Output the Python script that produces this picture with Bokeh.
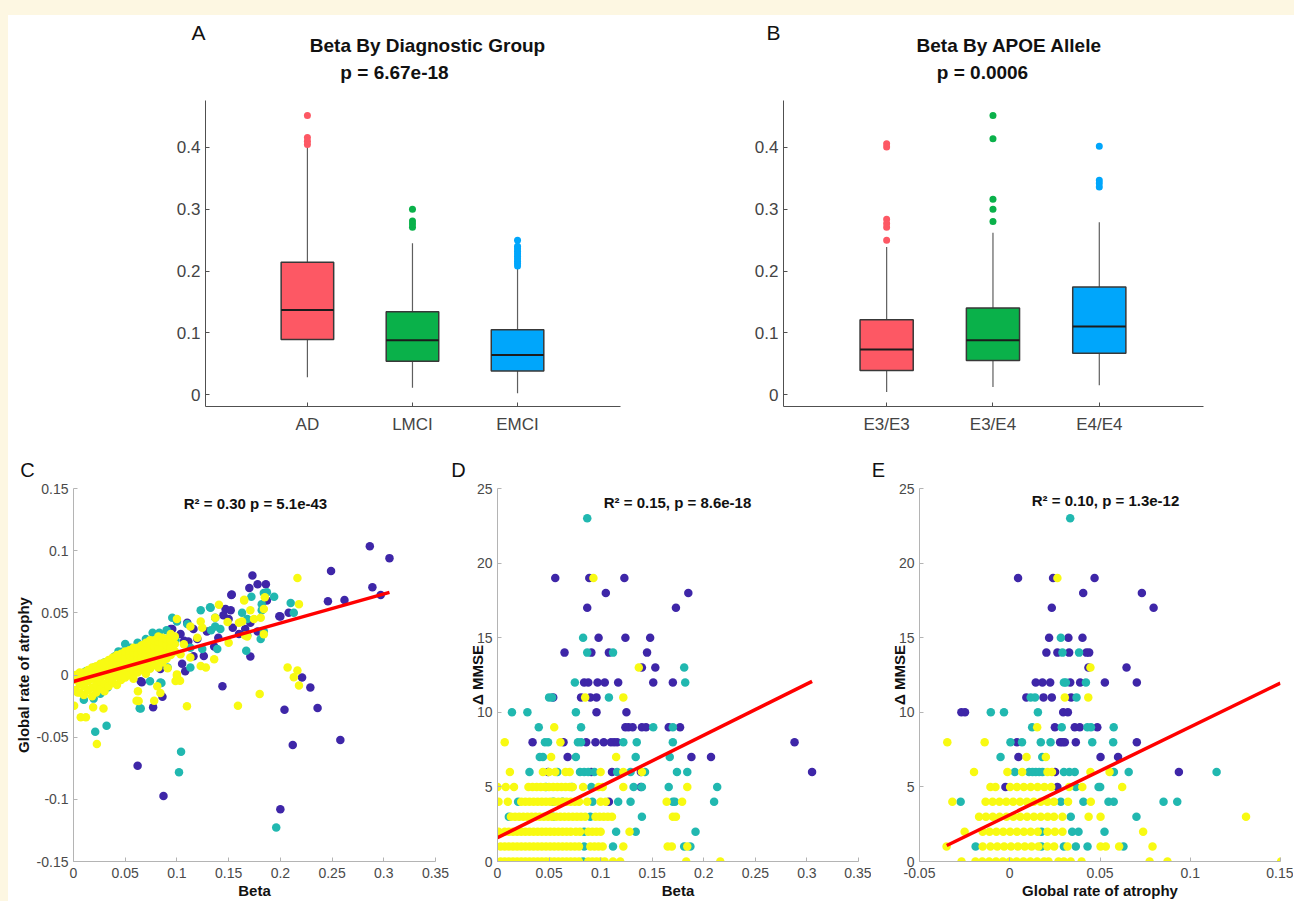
import json
from bokeh.plotting import figure
from bokeh.models import ColumnDataSource, Range1d, FixedTicker, CustomJSTickFormatter, Label, Div
from bokeh.layouts import column, row
from bokeh.embed import file_html
from bokeh.resources import INLINE

FONT = "Liberation Sans"
CREAM = "#fdf7e2"

# ---------------- Panel A: Beta by diagnostic group ----------------
diag_groups = ["AD", "LMCI", "EMCI"]
diag_low = [0.028, 0.011, 0.002]
diag_q1 = [0.089, 0.054, 0.038]
diag_med = [0.137, 0.088, 0.064]
diag_q3 = [0.214, 0.134, 0.105]
diag_high = [0.403, 0.245, 0.206]
diag_outliers = [
    [0.452, 0.416, 0.410, 0.405],
    [0.300, 0.281, 0.276, 0.271],
    [0.250, 0.240, 0.236, 0.232, 0.228, 0.224, 0.220, 0.216, 0.212, 0.208],
]

# ---------------- Panel B: Beta by APOE allele ----------------
apoe_groups = ["E3/E3", "E3/E4", "E4/E4"]
apoe_low = [0.004, 0.012, 0.015]
apoe_q1 = [0.039, 0.055, 0.067]
apoe_med = [0.073, 0.088, 0.110]
apoe_q3 = [0.121, 0.140, 0.174]
apoe_high = [0.239, 0.262, 0.279]
apoe_outliers = [
    [0.406, 0.401, 0.284, 0.277, 0.271, 0.250],
    [0.452, 0.414, 0.316, 0.300, 0.280],
    [0.402, 0.347, 0.342, 0.336],
]

BOX_COLORS = ["#fd5864", "#0ab14a", "#00a6fb"]
SC_COLORS = {"purple": "#3e26a8", "teal": "#21b8b0", "yellow": "#f8fa12"}

# ---------------- Panel C: Beta vs global rate of atrophy ----------------
c_purple = [
    (0.2865, 0.1036), (0.3055, 0.094), (0.249, 0.0837), (0.173, 0.080), (0.170, 0.070),
    (0.178, 0.073), (0.186, 0.073), (0.289, 0.0706), (0.297, 0.0644), (0.246, 0.0593),
    (0.262, 0.0604), (0.153, 0.0647), (0.187, 0.060), (0.200, 0.047), (0.208, 0.050),
    (0.147, 0.053), (0.152, 0.052), (0.145, 0.048), (0.150, 0.045), (0.0955, 0.037),
    (0.1035, 0.033), (0.111, 0.027), (0.1197, 0.029), (0.116, 0.037), (0.129, 0.035),
    (0.154, 0.038), (0.166, 0.037), (0.171, 0.042), (0.178, 0.035), (0.126, 0.0153),
    (0.171, 0.0148), (0.108, 0.003), (0.144, -0.009), (0.221, -0.002), (0.229, -0.010),
    (0.066, -0.0059), (0.086, -0.0174), (0.077, -0.026), (0.204, -0.0279), (0.236, -0.0266),
    (0.212, -0.0563), (0.258, -0.0523), (0.062, -0.073), (0.087, -0.0974), (0.200, -0.1079),
    (0.065, -0.005), (0.094, 0.037), (0.110, 0.042), (0.107, 0.0275), (0.116, 0.015),
    (0.084, 0.0048), (0.105, 0.009), (0.136, 0.023), (0.140, 0.030), (0.160, 0.033),
    (0.199, 0.0472), (0.1526, 0.0644),
]
c_teal = [
    (0.021, -0.0456), (0.032, -0.0408), (0.104, -0.0617), (0.102, -0.0783), (0.196, -0.1226),
    (0.064, -0.0268), (0.074, -0.005), (0.085, -0.0064), (0.167, 0.0196), (0.168, 0.032),
    (0.184, 0.066), (0.172, 0.063), (0.210, 0.058), (0.213, 0.050), (0.1326, 0.054),
    (0.123, 0.052), (0.137, 0.046), (0.163, 0.050), (0.168, 0.045), (0.142, 0.037),
    (0.137, 0.039), (0.133, 0.036), (0.184, 0.035), (0.181, 0.029), (0.0987, 0.028),
    (0.113, 0.022), (0.1245, 0.021), (0.139, 0.021), (0.113, 0.006), (0.0955, 0.046),
    (0.100, 0.043), (0.0435, 0.019), (0.050, 0.025), (0.033, -0.010), (0.084, -0.006),
    (0.065, -0.027), (0.0765, 0.034), (0.110, 0.041), (0.091, 0.026), (0.091, 0.006),
    (0.040, 0.015), (0.048, 0.019), (0.055, 0.022), (0.062, 0.026), (0.070, 0.029),
    (0.083, 0.034), (0.090, 0.036), (0.030, 0.010), (0.020, 0.006), (0.012, 0.003),
    (0.0195, -0.019), (0.026, -0.015), (0.010, -0.020), (0.182, 0.057), (0.187, 0.0665),
    (0.194, 0.063), (0.182, 0.052), (0.132, 0.0545),
]
c_yellow = [
    # scattered points
    (0.2165, 0.078), (0.165, 0.060), (0.1406, 0.0565), (0.218, 0.057), (0.171, 0.052),
    (0.181, 0.046), (0.1745, 0.045), (0.163, 0.043), (0.160, 0.042), (0.184, 0.053),
    (0.100, 0.045), (0.113, 0.039), (0.123, 0.043), (0.137, 0.046), (0.149, 0.0426),
    (0.1245, 0.038), (0.1197, 0.030), (0.1067, 0.0247), (0.1035, 0.0167), (0.113, 0.014),
    (0.136, 0.0126), (0.150, 0.026), (0.168, 0.031), (0.184, 0.0327), (0.123, 0.0072),
    (0.128, 0.006), (0.0987, -0.0048), (0.100, 0.0005), (0.207, 0.006), (0.2165, 0.0036),
    (0.213, -0.0018), (0.218, -0.0084), (0.180, -0.0153), (0.159, -0.0247), (0.1097, -0.0252),
    (0.078, -0.0207), (0.0623, -0.0131), (0.061, -0.0207), (0.0006, -0.0247), (0.007, -0.034),
    (0.012, -0.034), (0.0226, -0.0555), (0.019, -0.026), (0.029, -0.027), (0.063, -0.021),
    (0.081, -0.009), (0.084, -0.0145), (0.091, 0.0055), (0.100, -0.0008), (0.185, 0.0625),
    (0.165, 0.0606), (0.166, 0.0317), (0.103, -0.0046), (0.004, -0.014),
    # dense band near the fit
    (0.002, -0.012), (0.002, -0.004), (0.002, 0.000),
    (0.006, -0.014), (0.006, -0.007), (0.006, -0.001), (0.006, 0.002),
    (0.010, -0.016), (0.010, -0.009), (0.010, -0.003), (0.010, 0.002),
    (0.014, -0.012), (0.014, -0.005), (0.014, 0.001), (0.014, 0.004),
    (0.018, -0.017), (0.018, -0.010), (0.018, -0.003), (0.018, 0.003), (0.018, 0.006),
    (0.022, -0.014), (0.022, -0.008), (0.022, -0.002), (0.022, 0.004), (0.022, 0.007),
    (0.026, -0.011), (0.026, -0.005), (0.026, 0.001), (0.026, 0.006), (0.026, 0.009),
    (0.030, -0.013), (0.030, -0.007), (0.030, 0.000), (0.030, 0.005), (0.030, 0.010),
    (0.034, -0.009), (0.034, -0.003), (0.034, 0.003), (0.034, 0.008), (0.034, 0.012),
    (0.038, -0.006), (0.038, 0.000), (0.038, 0.005), (0.038, 0.010), (0.038, 0.014),
    (0.042, -0.008), (0.042, -0.001), (0.042, 0.004), (0.042, 0.009), (0.042, 0.014), (0.042, 0.016),
    (0.046, -0.004), (0.046, 0.002), (0.046, 0.007), (0.046, 0.012), (0.046, 0.017),
    (0.050, -0.002), (0.050, 0.004), (0.050, 0.009), (0.050, 0.014), (0.050, 0.019),
    (0.054, 0.000), (0.054, 0.006), (0.054, 0.011), (0.054, 0.016), (0.054, 0.020),
    (0.058, -0.003), (0.058, 0.003), (0.058, 0.008), (0.058, 0.013), (0.058, 0.018), (0.058, 0.022),
    (0.062, 0.002), (0.062, 0.007), (0.062, 0.012), (0.062, 0.017), (0.062, 0.022),
    (0.066, 0.004), (0.066, 0.009), (0.066, 0.014), (0.066, 0.019), (0.066, 0.024),
    (0.070, 0.001), (0.070, 0.006), (0.070, 0.011), (0.070, 0.016), (0.070, 0.021), (0.070, 0.026),
    (0.074, 0.005), (0.074, 0.010), (0.074, 0.015), (0.074, 0.020), (0.074, 0.025), (0.074, 0.028),
    (0.078, 0.008), (0.078, 0.013), (0.078, 0.018), (0.078, 0.023), (0.078, 0.028),
    (0.082, 0.006), (0.082, 0.012), (0.082, 0.017), (0.082, 0.022), (0.082, 0.027), (0.082, 0.031),
    (0.086, 0.010), (0.086, 0.016), (0.086, 0.021), (0.086, 0.026), (0.086, 0.030),
    (0.090, 0.013), (0.090, 0.019), (0.090, 0.024), (0.090, 0.029),
    (0.094, 0.016), (0.094, 0.022), (0.094, 0.028), (0.094, 0.033),
    (0.098, 0.019), (0.098, 0.025), (0.098, 0.031),
]
c_fit_beta = [0.0, 0.3055]
c_fit_atrophy = [-0.0052, 0.0665]

# ---------------- Panel D: Beta vs delta MMSE (rows keyed by delta MMSE) ----------------
d_purple = {
    19: [0.056, 0.089, 0.123], 18: [0.105, 0.185], 17: [0.087, 0.173],
    15: [0.098, 0.124, 0.148], 14: [0.065, 0.091, 0.108, 0.145], 13: [0.140, 0.153],
    12: [0.084, 0.088, 0.097, 0.104, 0.117, 0.151, 0.170], 11: [0.054, 0.081, 0.090, 0.096],
    10: [0.096, 0.125], 9: [0.124, 0.127, 0.131, 0.140, 0.144, 0.166, 0.177],
    8: [0.034, 0.064, 0.086, 0.095, 0.103, 0.110, 0.113, 0.116, 0.288],
    7: [0.068, 0.188, 0.207], 6: [0.049, 0.091, 0.111, 0.139, 0.305], 5: [0.139], 4: [0.108],
}
d_teal = {
    23: [0.087], 15: [0.083], 14: [0.087, 0.112], 13: [0.181], 12: [0.075, 0.182],
    11: [0.050, 0.053, 0.108], 10: [0.014, 0.029, 0.076], 9: [0.040, 0.081, 0.151, 0.170],
    8: [0.046, 0.049, 0.078, 0.081, 0.122, 0.135, 0.170],
    7: [0.041, 0.044, 0.076, 0.134, 0.167],
    6: [0.031, 0.058, 0.080, 0.084, 0.088, 0.094, 0.116, 0.129, 0.143, 0.174, 0.184],
    5: [0.047, 0.072, 0.091, 0.132, 0.140, 0.166, 0.213],
    4: [0.020, 0.054, 0.063, 0.092, 0.117, 0.129, 0.170, 0.172, 0.210],
    3: [0.011, 0.054, 0.090, 0.140], 2: [0.084, 0.115, 0.134, 0.192],
    1: [0.084, 0.112, 0.181, 0.187], 0: [0.083],
}
d_yellow = {
    19: [0.093], 13: [0.137], 11: [0.085, 0.122], 9: [0.055], 8: [0.007, 0.061],
    7: [0.052, 0.115],
    6: [0.012, 0.044, 0.050, 0.056, 0.066, 0.070, 0.100, 0.122, 0.140],
    5: [0.000, 0.008, 0.016, 0.030, 0.034, 0.038, 0.042, 0.046, 0.050, 0.054, 0.058, 0.062,
        0.066, 0.070, 0.073, 0.083, 0.098, 0.102, 0.122, 0.184],
    4: [0.001, 0.010, 0.023, 0.027, 0.031, 0.035, 0.039, 0.043, 0.047, 0.051, 0.055, 0.059,
        0.063, 0.067, 0.071, 0.075, 0.079, 0.087, 0.100, 0.105, 0.164, 0.179],
    3: [0.013, 0.017, 0.021, 0.025, 0.029, 0.033, 0.037, 0.041, 0.045, 0.049, 0.053, 0.057,
        0.061, 0.065, 0.069, 0.073, 0.077, 0.081, 0.085, 0.095, 0.099, 0.103, 0.107, 0.111,
        0.170, 0.173],
    2: [0.001, 0.007, 0.011, 0.015, 0.019, 0.023, 0.027, 0.031, 0.035, 0.039, 0.043, 0.047,
        0.051, 0.055, 0.059, 0.063, 0.067, 0.071, 0.076, 0.080, 0.088, 0.092, 0.096, 0.100,
        0.128],
    1: [0.003, 0.007, 0.011, 0.015, 0.019, 0.023, 0.027, 0.031, 0.035, 0.039, 0.043, 0.047,
        0.051, 0.055, 0.059, 0.063, 0.067, 0.071, 0.075, 0.079, 0.090, 0.094, 0.098, 0.102,
        0.122, 0.165, 0.169, 0.184],
    0: [0.003, 0.007, 0.011, 0.015, 0.019, 0.023, 0.027, 0.031, 0.035, 0.039, 0.043, 0.047,
        0.051, 0.055, 0.059, 0.063, 0.067, 0.071, 0.075, 0.079, 0.088, 0.092, 0.096, 0.100,
        0.104, 0.112, 0.119, 0.183, 0.216],
}
d_fit_beta = [0.0, 0.305]
d_fit_mmse = [1.59, 12.07]

# ---------------- Panel E: global rate of atrophy vs delta MMSE ----------------
e_purple = {
    19: [0.0046, 0.024, 0.047], 18: [0.0407, 0.0732], 17: [0.0233, 0.0797],
    15: [0.0218, 0.0325, 0.0403], 14: [0.0203, 0.0264, 0.0329, 0.0425, 0.044],
    13: [0.0436, 0.0647], 12: [0.0144, 0.0181, 0.0224, 0.0335, 0.039, 0.0527, 0.0704],
    11: [0.0092, 0.0187, 0.0233, 0.0340], 10: [-0.0268, -0.0248, 0.0296, 0.0322],
    9: [0.0250, 0.0360, 0.0388, 0.0485], 8: [0.0040, 0.0279, 0.0292, 0.0305, 0.0366, 0.0704],
    7: [0.0048, 0.0503, 0.0600], 6: [0.0251, 0.0937], 5: [-0.0024, 0.0264],
}
e_teal = {
    23: [0.0335], 15: [0.0283], 14: [0.0292, 0.0384], 12: [0.0300, 0.0311, 0.0422],
    11: [0.0116, 0.0140, 0.0370], 10: [-0.0105, -0.0032, 0.0156],
    9: [0.0124, 0.0288, 0.043, 0.045, 0.0576],
    8: [0.0004, 0.0068, 0.0172, 0.0226, 0.0457, 0.0573], 7: [-0.0051, 0.0180],
    6: [0.0028, 0.0107, 0.0126, 0.0144, 0.0163, 0.0181, 0.0300, 0.0330, 0.0360, 0.0577,
        0.0659, 0.1146],
    5: [0.0366, 0.0492, 0.0501], 4: [-0.0272, 0.0283, 0.0408, 0.0547, 0.0576, 0.0852, 0.0928],
    3: [0.0338, 0.0702], 2: [0.0176, 0.0346, 0.0381, 0.0525],
    1: [-0.0189, 0.0176, 0.0300, 0.0366, 0.0431, 0.0630],
}
e_yellow = {
    19: [0.0264], 13: [0.0447], 11: [0.0305, 0.0435], 9: [0.0152], 8: [-0.0346, -0.0139],
    7: [0.0093, 0.0200], 6: [-0.0198, -0.0013, 0.0069, 0.0209, 0.0234, 0.0447, 0.0553],
    5: [-0.0107, -0.0079, 0.0002, 0.0040, 0.0078, 0.0116, 0.0154, 0.0192, 0.0230, 0.0329,
        0.0402, 0.0623],
    4: [-0.0318, -0.0134, -0.0095, -0.0057, -0.0019, 0.0019, 0.0057, 0.0095, 0.0133, 0.0171,
        0.0209, 0.0245, 0.0323, 0.0449],
    3: [-0.0170, -0.0132, -0.0094, -0.0056, -0.0018, 0.0020, 0.0058, 0.0096, 0.0134, 0.0172,
        0.0210, 0.0245, 0.0292, 0.0437, 0.0503, 0.1309],
    2: [-0.0250, -0.0150, -0.0112, -0.0074, -0.0036, 0.0002, 0.0040, 0.0078, 0.0116, 0.0155,
        0.0209, 0.0250, 0.0292, 0.0739],
    1: [-0.0350, -0.0150, -0.0107, -0.0069, -0.0031, 0.0007, 0.0045, 0.0083, 0.0121, 0.0159,
        0.0208, 0.0246, 0.0320, 0.0503, 0.0532, 0.0606, 0.0791],
    0: [-0.0267, -0.0190, -0.0152, -0.0114, -0.0076, -0.0038, 0.0000, 0.0038, 0.0076, 0.0114,
        0.0152, 0.0190, 0.0215, 0.0270, 0.0300, 0.0338, 0.0398, 0.0775, 0.0874, 0.1503],
}
e_fit_atrophy = [-0.0349, 0.1499]
e_fit_mmse = [1.07, 11.96]


# ---------------- helpers ----------------
def num_formatter():
    return CustomJSTickFormatter(code="return String(Math.round(tick*1000)/1000);")


def cat_formatter(names):
    return CustomJSTickFormatter(
        code="const L = %s; const i = Math.round(tick) - 1; return (i >= 0 && i < L.length) ? L[i] : '';"
        % json.dumps(names))


def text_kw(size, bold):
    return dict(text_font=FONT, text_font_size="%dpx" % size,
                text_font_style="bold" if bold else "normal",
                text_color="#111111", text_align="center", text_baseline="middle")


def put(p, fl, fb, X, Y, text, size, bold=False):
    """Text inside a plot frame; screen units measured from the frame's bottom-left."""
    p.add_layout(Label(x=X - fl, y=fb - Y, x_units="screen", y_units="screen", text=text,
                       **text_kw(size, bold)))


def header(width, height, left, top):
    """A plain white strip whose data coordinates equal page pixels."""
    p = figure(width=width, height=height, x_range=Range1d(left, left + width),
               y_range=Range1d(top + height, top), output_backend="svg", toolbar_location=None,
               min_border=0, x_axis_location=None, y_axis_location=None, outline_line_color=None,
               background_fill_color="white", border_fill_color="white")
    p.xgrid.visible = False
    p.ygrid.visible = False
    return p


def put_h(p, X, Y, text, size, bold=False):
    p.add_layout(Label(x=X, y=Y, text=text, **text_kw(size, bold)))


def style_axes(p, size, color, line_color, xstand, ystand):
    for ax in (p.xaxis[0], p.yaxis[0]):
        ax.axis_line_color = line_color
        ax.axis_line_width = 1
        ax.major_tick_line_color = line_color
        ax.major_tick_in = 4
        ax.major_tick_out = 0
        ax.minor_tick_line_color = None
        ax.major_label_text_font = FONT
        ax.major_label_text_font_size = "%dpx" % size
        ax.major_label_text_color = color
        ax.axis_label_text_font = FONT
        ax.axis_label_text_font_size = "15px"
        ax.axis_label_text_font_style = "bold"
        ax.axis_label_text_color = "#111111"
    p.xaxis[0].major_label_standoff = xstand
    p.yaxis[0].major_label_standoff = ystand
    p.xgrid.visible = False
    p.ygrid.visible = False


def flatten(rows):
    xs, ys = [], []
    for yv, xl in rows.items():
        xs += list(xl)
        ys += [yv] * len(xl)
    return xs, ys


def box_panel(width, mbl, mbr, names, low, q1, med, q3, high, outliers):
    p = figure(width=width, height=348, x_range=Range1d(0.03, 3.98), y_range=Range1d(-0.0194, 0.4761),
               output_backend="svg", toolbar_location=None, min_border_left=mbl, min_border_right=mbr,
               min_border_top=8, min_border_bottom=34, outline_line_color=None,
               background_fill_color="white", border_fill_color="white")
    pos = [1, 2, 3]
    half = 0.25
    src = ColumnDataSource(dict(x=pos, x0=[v - half for v in pos], x1=[v + half for v in pos],
                                low=low, q1=q1, med=med, q3=q3, high=high, color=BOX_COLORS))
    p.segment(x0="x", y0="low", x1="x", y1="q1", source=src, line_color="#5e5e5e", line_width=1.2)
    p.segment(x0="x", y0="q3", x1="x", y1="high", source=src, line_color="#5e5e5e", line_width=1.2)
    p.quad(left="x0", right="x1", bottom="q1", top="q3", source=src, fill_color="color",
           line_color="#383838", line_width=1.5)
    p.segment(x0="x0", y0="med", x1="x1", y1="med", source=src, line_color="#1c1c1c", line_width=2)
    ox, oy, oc = [], [], []
    for i, vals in enumerate(outliers):
        ox += [pos[i]] * len(vals)
        oy += vals
        oc += [BOX_COLORS[i]] * len(vals)
    p.scatter(x=ox, y=oy, size=7, fill_color=oc, line_color=None)
    p.xaxis.ticker = FixedTicker(ticks=pos)
    p.xaxis.formatter = cat_formatter(names)
    p.yaxis.ticker = FixedTicker(ticks=[0, 0.1, 0.2, 0.3, 0.4])
    p.yaxis.formatter = num_formatter()
    style_axes(p, 17, "#444444", "#505050", 8, 5)
    return p


def scatter_panel(width, mbl, mbr, xr, yr, xticks, yticks, groups, fit_x, fit_y,
                  xlabel, ylabel, ylabel_standoff):
    p = figure(width=width, height=420, x_range=Range1d(*xr), y_range=Range1d(*yr),
               output_backend="svg", toolbar_location=None, min_border_left=mbl, min_border_right=mbr,
               min_border_top=7, min_border_bottom=40, outline_line_color=None,
               background_fill_color="white", border_fill_color="white")
    for name in ("purple", "teal", "yellow"):
        xs, ys = groups[name]
        p.scatter(x=xs, y=ys, size=8.5, fill_color=SC_COLORS[name], line_color=None)
    p.line(x=fit_x, y=fit_y, line_color="#ff0000", line_width=3.5)
    p.xaxis.ticker = FixedTicker(ticks=xticks)
    p.yaxis.ticker = FixedTicker(ticks=yticks)
    p.xaxis.formatter = num_formatter()
    p.yaxis.formatter = num_formatter()
    style_axes(p, 14, "#4a4a4a", "#b4b4b4", 6, 5)
    p.xaxis.axis_label = xlabel
    p.xaxis.axis_label_standoff = 1
    p.yaxis.axis_label = ylabel
    p.yaxis.axis_label_standoff = ylabel_standoff
    return p


# ---------------- build panels ----------------
top_head = header(1286, 77, 8, 15)
put_h(top_head, 198, 32, "A", 21)
put_h(top_head, 427, 45, "Beta By Diagnostic Group", 19, bold=True)
put_h(top_head, 394, 72, "p = 6.67e-18", 19, bold=True)
put_h(top_head, 773, 32, "B", 21)
put_h(top_head, 1009, 45, "Beta By APOE Allele", 19, bold=True)
put_h(top_head, 982, 72, "p = 0.0006", 19, bold=True)

pa = box_panel(642, 197, 30, diag_groups, diag_low, diag_q1, diag_med, diag_q3, diag_high, diag_outliers)
pb = box_panel(644, 133, 91, apoe_groups, apoe_low, apoe_q1, apoe_med, apoe_q3, apoe_high, apoe_outliers)

bot_head = header(1286, 41, 8, 440)
put_h(bot_head, 27, 469, "C", 20)
put_h(bot_head, 458, 469, "D", 20)
put_h(bot_head, 878, 469, "E", 20)

c_groups = {
    "purple": ([v[0] for v in c_purple], [v[1] for v in c_purple]),
    "teal": ([v[0] for v in c_teal], [v[1] for v in c_teal]),
    "yellow": ([v[0] for v in c_yellow], [v[1] for v in c_yellow]),
}
pc = scatter_panel(442, 65, 15, (0.0, 0.35), (-0.15, 0.15),
                   [0, 0.05, 0.1, 0.15, 0.2, 0.25, 0.3, 0.35],
                   [-0.15, -0.1, -0.05, 0, 0.05, 0.1, 0.15], c_groups, c_fit_beta, c_fit_atrophy,
                   "Beta", "Global rate of atrophy", 2)
put(pc, 73, 861, 255, 503, "R\u00b2 = 0.30 p = 5.1e-43", 15, bold=True)

d_groups = {"purple": flatten(d_purple), "teal": flatten(d_teal), "yellow": flatten(d_yellow)}
pd_ = scatter_panel(421, 47, 13, (0.0, 0.35), (0, 25),
                    [0, 0.05, 0.1, 0.15, 0.2, 0.25, 0.3, 0.35], [0, 5, 10, 15, 20, 25],
                    d_groups, d_fit_beta, d_fit_mmse, "Beta", "\u0394 MMSE", -12)
put(pd_, 497, 861, 677, 502, "R\u00b2 = 0.15, p = 8.6e-18", 15, bold=True)

e_groups = {"purple": flatten(e_purple), "teal": flatten(e_teal), "yellow": flatten(e_yellow)}
pe = scatter_panel(422, 48, 13, (-0.05, 0.15), (0, 25),
                   [-0.05, 0, 0.05, 0.1, 0.15], [0, 5, 10, 15, 20, 25],
                   e_groups, e_fit_atrophy, e_fit_mmse, "Global rate of atrophy", "\u0394 MMSE", -12)
put(pe, 919, 861, 1105, 500, "R\u00b2 = 0.10, p = 1.3e-12", 15, bold=True)

top_strip = Div(text="", width=1294, height=15, margin=0, styles={"background-color": CREAM})
left_strip = Div(text="", width=8, height=886, margin=0, styles={"background-color": CREAM})
body = column(top_head, row(pa, pb), bot_head, row(pc, pd_, pe))
layout = column(top_strip, row(left_strip, body))

with open("out.html", "w", encoding="utf-8") as f:
    f.write(file_html(layout, INLINE, title="Beta figure"))
